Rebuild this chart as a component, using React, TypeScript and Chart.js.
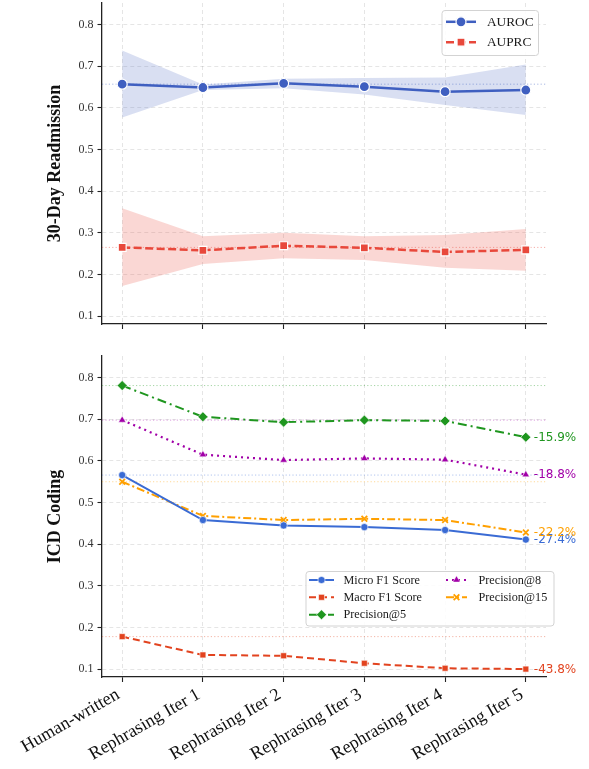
import React, { useEffect, useRef } from 'react';
import { Chart, registerables } from 'chart.js';
import { drawPoint } from 'chart.js/helpers';

Chart.register(...registerables);

// ---- data ----
const categories = [
  'Human-written',
  'Rephrasing Iter 1',
  'Rephrasing Iter 2',
  'Rephrasing Iter 3',
  'Rephrasing Iter 4',
  'Rephrasing Iter 5',
];

// 30-day readmission: mean and spread band
const aurocMean = [0.657, 0.649, 0.659, 0.651, 0.639, 0.643];
const aurocUpper = [0.738, 0.656, 0.670, 0.672, 0.673, 0.704];
const aurocLower = [0.577, 0.643, 0.647, 0.632, 0.607, 0.583];

const auprcMean = [0.265, 0.258, 0.269, 0.264, 0.254, 0.259];
const auprcUpper = [0.359, 0.292, 0.300, 0.292, 0.295, 0.309];
const auprcLower = [0.172, 0.225, 0.239, 0.235, 0.216, 0.209];

// ICD coding metrics
const microF1 = [0.566, 0.458, 0.445, 0.441, 0.434, 0.411];
const macroF1 = [0.178, 0.134, 0.132, 0.114, 0.102, 0.100];
const precisionAt5 = [0.781, 0.706, 0.693, 0.698, 0.696, 0.657];
const precisionAt8 = [0.698, 0.615, 0.602, 0.606, 0.603, 0.567];
const precisionAt15 = [0.550, 0.468, 0.458, 0.461, 0.458, 0.428];

const yTickValues = [0.1, 0.2, 0.3, 0.4, 0.5, 0.6, 0.7, 0.8];

// ---- styling ----
const SERIF = '"Liberation Serif", "Times New Roman", serif';
const SANS = '"DejaVu Sans", sans-serif';
const WIDTH = 589;
const TOP_H = 340;
const BOTTOM_H = 429;
const AXIS_LEFT = 102;
const AXIS_RIGHT = 546;
const Y_MIN = 0.081;
const Y_MAX = 0.852;
const X_MIN = -0.25;
const X_MAX = 5.25;

const BLUE = '#3f5fc0';
const RED = '#e8483b';
const MICRO = '#3a6bd4';
const MACRO = '#e2431f';
const GREEN = '#1f961f';
const PURPLE = '#a100a8';
const ORANGE = '#ffa000';

const GRID = 'rgba(0,0,0,0.10)';
const SPINE = '#222';

type LegendItem = {
  label: string;
  color: string;
  dash: number[];
  lineWidth: number;
  pointStyle: string;
  radius: number;
  pointBorder: string;
  pointBorderWidth: number;
};

const points = (arr: number[]) => arr.map((y, x) => ({ x, y }));
const flat = (v: number) => [
  { x: X_MIN, y: v },
  { x: X_MAX, y: v },
];
const pctChange = (arr: number[]) =>
  (((arr[arr.length - 1] - arr[0]) / arr[0]) * 100).toFixed(1) + '%';

function xScale(showLabels: boolean, height: number) {
  return {
    type: 'linear',
    min: X_MIN,
    max: X_MAX,
    afterBuildTicks: (s: any) => {
      s.ticks = categories.map((_, i) => ({ value: i }));
    },
    ticks: {
      display: showLabels,
      autoSkip: false,
      minRotation: 30,
      maxRotation: 30,
      padding: 2,
      labelOffset: -4,
      color: '#111',
      font: { family: SERIF, size: 18 },
      callback: (v: number) => categories[v] ?? '',
    },
    grid: { color: GRID, lineWidth: 1, tickColor: SPINE, tickLength: 5, tickWidth: 1.1 },
    border: { display: true, color: SPINE, width: 1.3, dash: [4, 3] },
    afterFit: (s: any) => {
      s.height = height;
      s.paddingLeft = 0;
      s.paddingRight = 0;
    },
  };
}

function yScale(title: string) {
  return {
    type: 'linear',
    min: Y_MIN,
    max: Y_MAX,
    afterBuildTicks: (s: any) => {
      s.ticks = yTickValues.map((value) => ({ value }));
    },
    ticks: {
      padding: 4,
      color: '#333',
      font: { family: SERIF, size: 12 },
      callback: (v: number) => Number(v).toFixed(1),
    },
    grid: { color: GRID, lineWidth: 1, tickColor: SPINE, tickLength: 4.5, tickWidth: 1.1 },
    border: { display: true, color: SPINE, width: 1.3, dash: [4, 3] },
    title: {
      display: true,
      text: title,
      color: '#111',
      font: { family: SERIF, size: 18, weight: 'bold' },
      padding: { top: 45, bottom: 0 },
    },
    afterFit: (s: any) => {
      s.width = AXIS_LEFT;
      s.paddingTop = 0;
      s.paddingBottom = 0;
    },
  };
}

function drawLegend(
  ctx: CanvasRenderingContext2D,
  box: { x: number; y: number; w: number; h: number },
  entries: { item: LegendItem; lineX0: number; lineX1: number; markX: number; textX: number; y: number }[],
  fontSize: number
) {
  ctx.save();
  ctx.setLineDash([]);
  ctx.beginPath();
  (ctx as any).roundRect(box.x + 0.5, box.y + 0.5, box.w, box.h, 3);
  ctx.fillStyle = 'rgba(255,255,255,0.85)';
  ctx.fill();
  ctx.strokeStyle = '#d3d3d3';
  ctx.lineWidth = 1;
  ctx.stroke();

  for (const e of entries) {
    const it = e.item;
    ctx.save();
    ctx.strokeStyle = it.color;
    ctx.lineWidth = it.lineWidth;
    ctx.setLineDash(it.dash);
    ctx.beginPath();
    ctx.moveTo(e.lineX0, e.y);
    ctx.lineTo(e.lineX1, e.y);
    ctx.stroke();
    ctx.setLineDash([]);
    ctx.fillStyle = it.color;
    ctx.strokeStyle = it.pointBorder;
    ctx.lineWidth = it.pointBorderWidth;
    drawPoint(
      ctx,
      { pointStyle: it.pointStyle as any, radius: it.radius, rotation: 0, borderWidth: it.pointBorderWidth },
      e.markX,
      e.y
    );
    ctx.restore();

    ctx.fillStyle = '#1a1a1a';
    ctx.font = `${fontSize}px ${SERIF}`;
    ctx.textAlign = 'left';
    ctx.textBaseline = 'middle';
    ctx.fillText(it.label, e.textX, e.y + 0.5);
  }
  ctx.restore();
}

function lineDataset(label: string, data: number[], item: LegendItem, order = 0) {
  return {
    label,
    data: points(data),
    borderColor: item.color,
    borderWidth: item.lineWidth,
    borderDash: item.dash,
    pointStyle: item.pointStyle,
    pointRadius: item.radius,
    pointBackgroundColor: item.color,
    pointBorderColor: item.pointBorder,
    pointBorderWidth: item.pointBorderWidth,
    fill: false,
    tension: 0,
    order,
    clip: false,
  };
}

function refDataset(value: number, color: string) {
  return {
    data: flat(value),
    borderColor: color,
    borderWidth: 1,
    borderDash: [1.2, 2.2],
    pointRadius: 0,
    fill: false,
    order: 5,
  };
}

function bandDatasets(upper: number[], lower: number[], color: string, baseOrder: number) {
  return [
    { data: points(upper), borderWidth: 0, pointRadius: 0, fill: false, order: baseOrder },
    {
      data: points(lower),
      borderWidth: 0,
      pointRadius: 0,
      fill: '-1',
      backgroundColor: color,
      order: baseOrder,
    },
  ];
}

// ---- series styles ----
const aurocItem: LegendItem = {
  label: 'AUROC', color: BLUE, dash: [], lineWidth: 2.5, pointStyle: 'circle', radius: 5,
  pointBorder: '#ffffff', pointBorderWidth: 1.2,
};
const auprcItem: LegendItem = {
  label: 'AUPRC', color: RED, dash: [8, 3.5], lineWidth: 2.5, pointStyle: 'rect', radius: 5.6,
  pointBorder: '#ffffff', pointBorderWidth: 1.2,
};

const microItem: LegendItem = {
  label: 'Micro F1 Score', color: MICRO, dash: [], lineWidth: 2, pointStyle: 'circle', radius: 3.6,
  pointBorder: '#ffffff', pointBorderWidth: 0.6,
};
const macroItem: LegendItem = {
  label: 'Macro F1 Score', color: MACRO, dash: [7, 4], lineWidth: 2, pointStyle: 'rect', radius: 4.2,
  pointBorder: '#ffffff', pointBorderWidth: 0.6,
};
const p5Item: LegendItem = {
  label: 'Precision@5', color: GREEN, dash: [9, 4, 2, 4], lineWidth: 2, pointStyle: 'rectRot', radius: 5,
  pointBorder: '#ffffff', pointBorderWidth: 0.6,
};
const p8Item: LegendItem = {
  label: 'Precision@8', color: PURPLE, dash: [2, 4], lineWidth: 2.2, pointStyle: 'triangle', radius: 4.2,
  pointBorder: '#ffffff', pointBorderWidth: 0.5,
};
const p15Item: LegendItem = {
  label: 'Precision@15', color: ORANGE, dash: [8, 3, 2, 3], lineWidth: 2, pointStyle: 'crossRot', radius: 4,
  pointBorder: ORANGE, pointBorderWidth: 1.8,
};

const icdSeries: { item: LegendItem; data: number[] }[] = [
  { item: microItem, data: microF1 },
  { item: macroItem, data: macroF1 },
  { item: p5Item, data: precisionAt5 },
  { item: p8Item, data: precisionAt8 },
  { item: p15Item, data: precisionAt15 },
];

const topLegendPlugin = {
  id: 'topLegend',
  afterDraw(chart: any) {
    drawLegend(
      chart.ctx,
      { x: 441.5, y: 10, w: 96.5, h: 45 },
      [
        { item: aurocItem, lineX0: 446, lineX1: 476, markX: 461, textX: 487, y: 21.8 },
        { item: auprcItem, lineX0: 446, lineX1: 476, markX: 461, textX: 487, y: 42.2 },
      ],
      13.3
    );
  },
};

const bottomLegendPlugin = {
  id: 'bottomLegend',
  afterDraw(chart: any) {
    const oy = 340;
    drawLegend(
      chart.ctx,
      { x: 305.5, y: 571 - oy, w: 248, h: 54.5 },
      [
        { item: microItem, lineX0: 309, lineX1: 334, markX: 321.5, textX: 343.5, y: 580 - oy },
        { item: macroItem, lineX0: 309, lineX1: 334, markX: 321.5, textX: 343.5, y: 597.3 - oy },
        { item: p5Item, lineX0: 309, lineX1: 334, markX: 321.5, textX: 343.5, y: 614.7 - oy },
        { item: p8Item, lineX0: 446, lineX1: 467, markX: 456.5, textX: 478.5, y: 580 - oy },
        { item: p15Item, lineX0: 446, lineX1: 467, markX: 456.5, textX: 478.5, y: 597.3 - oy },
      ],
      12.2
    );
  },
};

// relative change from the human-written note to the last rephrasing round
const changeLabelPlugin = {
  id: 'changeLabels',
  afterDatasetsDraw(chart: any) {
    const ctx = chart.ctx as CanvasRenderingContext2D;
    ctx.save();
    ctx.font = `12px ${SANS}`;
    ctx.textAlign = 'left';
    ctx.textBaseline = 'middle';
    chart.data.datasets.forEach((ds: any, i: number) => {
      if (!ds.changeLabel) return;
      const meta = chart.getDatasetMeta(i);
      const last = meta.data[meta.data.length - 1];
      ctx.fillStyle = ds.borderColor;
      ctx.fillText(ds.changeLabel, last.x + 8, last.y + 0.5);
    });
    ctx.restore();
  },
};

function ReadmissionChart() {
  const ref = useRef<HTMLCanvasElement>(null);
  useEffect(() => {
    if (!ref.current) return;
    const chart = new Chart(ref.current, {
      type: 'line',
      data: {
        datasets: [
          lineDataset('AUROC', aurocMean, aurocItem, 0),
          lineDataset('AUPRC', auprcMean, auprcItem, 0),
          refDataset(aurocMean[0], 'rgba(63,95,192,0.45)'),
          refDataset(auprcMean[0], 'rgba(232,72,59,0.45)'),
          ...bandDatasets(aurocUpper, aurocLower, 'rgba(63,95,192,0.2)', 8),
          ...bandDatasets(auprcUpper, auprcLower, 'rgba(232,72,59,0.22)', 8),
        ] as any,
      },
      options: {
        animation: false,
        responsive: false,
        devicePixelRatio: 1,
        layout: { autoPadding: false, padding: { left: 0, right: WIDTH - AXIS_RIGHT, top: 3, bottom: 0 } },
        plugins: { legend: { display: false }, tooltip: { enabled: false } },
        scales: {
          x: xScale(false, TOP_H - 324) as any,
          y: yScale('30-Day Readmission') as any,
        },
      },
      plugins: [topLegendPlugin],
    });
    return () => chart.destroy();
  }, []);
  return <canvas ref={ref} width={WIDTH} height={TOP_H} style={{ display: 'block' }} />;
}

function IcdChart() {
  const ref = useRef<HTMLCanvasElement>(null);
  useEffect(() => {
    if (!ref.current) return;
    const mains = icdSeries.map((s) => ({
      ...lineDataset(s.item.label, s.data, s.item, 0),
      changeLabel: pctChange(s.data),
    }));
    const refs = icdSeries.map((s) => refDataset(s.data[0], s.item.color + '66'));
    const chart = new Chart(ref.current, {
      type: 'line',
      data: { datasets: [...mains, ...refs] as any },
      options: {
        animation: false,
        responsive: false,
        devicePixelRatio: 1,
        layout: { autoPadding: false, padding: { left: 0, right: WIDTH - AXIS_RIGHT, top: 16, bottom: 0 } },
        plugins: { legend: { display: false }, tooltip: { enabled: false } },
        scales: {
          x: xScale(true, 769 - 677) as any,
          y: yScale('ICD Coding') as any,
        },
      },
      plugins: [changeLabelPlugin, bottomLegendPlugin],
    });
    return () => chart.destroy();
  }, []);
  return <canvas ref={ref} width={WIDTH} height={BOTTOM_H} style={{ display: 'block' }} />;
}

export default function App() {
  return (
    <div style={{ position: 'absolute', left: 0, top: 0, width: WIDTH, height: 769, background: '#fff' }}>
      <ReadmissionChart />
      <IcdChart />
    </div>
  );
}
